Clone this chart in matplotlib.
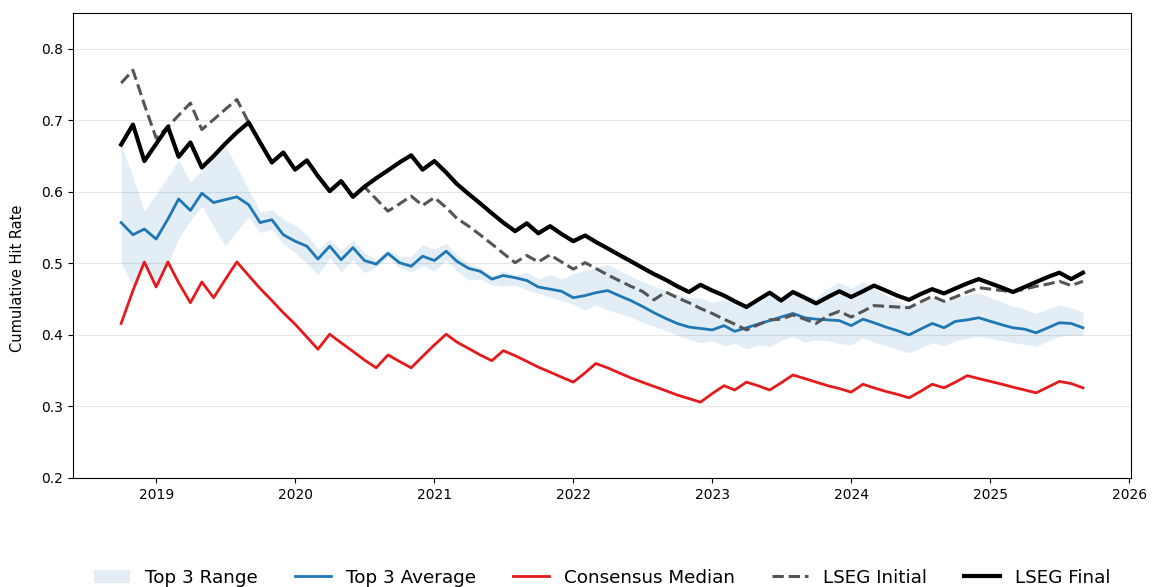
import matplotlib
matplotlib.use("Agg")
import matplotlib.pyplot as plt
import matplotlib.dates as mdates
import pandas as pd

# Monthly observation dates
dates = pd.date_range("2018-10-01", "2025-09-01", freq="MS")

lseg_final = [
    0.666, 0.694, 0.643, 0.667, 0.691, 0.649, 0.669, 0.634, 0.650, 0.667,
    0.683, 0.697, 0.669, 0.641, 0.655, 0.631, 0.644, 0.622, 0.601, 0.615,
    0.593, 0.607, 0.619, 0.630, 0.641, 0.651, 0.631, 0.643, 0.627, 0.611,
    0.597, 0.584, 0.570, 0.557, 0.545, 0.556, 0.542, 0.552, 0.541, 0.531,
    0.539, 0.530, 0.521, 0.512, 0.503, 0.494, 0.485, 0.477, 0.468, 0.460,
    0.470, 0.462, 0.455, 0.447, 0.439, 0.449, 0.459, 0.448, 0.460, 0.452,
    0.444, 0.453, 0.461, 0.453, 0.461, 0.469, 0.462, 0.455, 0.449, 0.457,
    0.464, 0.458, 0.465, 0.472, 0.478, 0.472, 0.466, 0.460, 0.467, 0.474,
    0.481, 0.487, 0.478, 0.487,
]

lseg_initial = [
    0.752, 0.770, 0.722, 0.675, 0.691, 0.707, 0.724, 0.687, 0.701, 0.715,
    0.729, 0.697, 0.669, 0.641, 0.655, 0.631, 0.644, 0.622, 0.601, 0.615,
    0.593, 0.607, 0.590, 0.573, 0.583, 0.594, 0.581, 0.592, 0.578, 0.563,
    0.552, 0.540, 0.527, 0.514, 0.501, 0.511, 0.502, 0.512, 0.502, 0.492,
    0.501, 0.493, 0.484, 0.476, 0.468, 0.461, 0.449, 0.460, 0.452, 0.445,
    0.437, 0.430, 0.422, 0.415, 0.407, 0.414, 0.421, 0.422, 0.428, 0.422,
    0.416, 0.427, 0.433, 0.425, 0.433, 0.441, 0.440, 0.439, 0.438, 0.446,
    0.454, 0.447, 0.453, 0.460, 0.466, 0.464, 0.462, 0.460, 0.464, 0.468,
    0.471, 0.475, 0.469, 0.475,
]

top3_avg = [
    0.557, 0.540, 0.548, 0.534, 0.562, 0.590, 0.574, 0.598, 0.585, 0.589,
    0.593, 0.582, 0.557, 0.561, 0.540, 0.531, 0.524, 0.506, 0.524, 0.505,
    0.522, 0.504, 0.499, 0.514, 0.501, 0.496, 0.510, 0.504, 0.517, 0.503,
    0.493, 0.489, 0.478, 0.483, 0.480, 0.476, 0.467, 0.464, 0.461, 0.452,
    0.455, 0.459, 0.462, 0.455, 0.448, 0.440, 0.431, 0.423, 0.416, 0.411,
    0.409, 0.407, 0.413, 0.405, 0.410, 0.415, 0.420, 0.425, 0.430, 0.424,
    0.422, 0.421, 0.420, 0.413, 0.422, 0.417, 0.411, 0.406, 0.400, 0.408,
    0.416, 0.410, 0.419, 0.421, 0.424, 0.419, 0.414, 0.410, 0.408, 0.403,
    0.410, 0.417, 0.416, 0.410,
]

top3_high = [
    0.666, 0.620, 0.573, 0.597, 0.621, 0.645, 0.613, 0.630, 0.647, 0.664,
    0.635, 0.603, 0.572, 0.575, 0.562, 0.553, 0.540, 0.520, 0.534, 0.518,
    0.533, 0.515, 0.505, 0.520, 0.510, 0.510, 0.526, 0.520, 0.528, 0.512,
    0.500, 0.494, 0.483, 0.490, 0.483, 0.488, 0.478, 0.485, 0.478, 0.486,
    0.490, 0.494, 0.498, 0.490, 0.482, 0.475, 0.468, 0.462, 0.457, 0.452,
    0.452, 0.445, 0.450, 0.442, 0.437, 0.446, 0.455, 0.452, 0.460, 0.455,
    0.452, 0.465, 0.474, 0.465, 0.474, 0.465, 0.456, 0.448, 0.440, 0.446,
    0.452, 0.447, 0.452, 0.456, 0.459, 0.452, 0.446, 0.440, 0.436, 0.430,
    0.436, 0.442, 0.438, 0.432,
]

top3_low = [
    0.500, 0.468, 0.492, 0.468, 0.500, 0.535, 0.560, 0.580, 0.552, 0.524,
    0.545, 0.565, 0.543, 0.548, 0.527, 0.515, 0.500, 0.484, 0.508, 0.488,
    0.505, 0.487, 0.495, 0.508, 0.494, 0.488, 0.497, 0.489, 0.505, 0.490,
    0.477, 0.478, 0.470, 0.468, 0.470, 0.463, 0.458, 0.453, 0.448, 0.443,
    0.435, 0.442, 0.435, 0.430, 0.425, 0.418, 0.412, 0.406, 0.400, 0.394,
    0.389, 0.392, 0.385, 0.388, 0.380, 0.386, 0.384, 0.392, 0.398, 0.390,
    0.393, 0.392, 0.388, 0.386, 0.396, 0.390, 0.385, 0.380, 0.375, 0.382,
    0.389, 0.385, 0.392, 0.395, 0.398, 0.395, 0.392, 0.389, 0.387, 0.384,
    0.391, 0.398, 0.400, 0.399,
]

consensus_median = [
    0.416, 0.462, 0.502, 0.467, 0.502, 0.473, 0.445, 0.474, 0.452, 0.477,
    0.502, 0.483, 0.465, 0.448, 0.431, 0.415, 0.397, 0.380, 0.401, 0.389,
    0.377, 0.365, 0.354, 0.372, 0.363, 0.354, 0.370, 0.386, 0.401, 0.390,
    0.381, 0.372, 0.364, 0.378, 0.371, 0.363, 0.355, 0.348, 0.341, 0.334,
    0.347, 0.360, 0.354, 0.347, 0.340, 0.334, 0.328, 0.322, 0.316, 0.311,
    0.306, 0.318, 0.329, 0.323, 0.334, 0.329, 0.323, 0.333, 0.344, 0.339,
    0.334, 0.329, 0.325, 0.320, 0.331, 0.326, 0.321, 0.317, 0.312, 0.321,
    0.331, 0.326, 0.334, 0.343, 0.339, 0.335, 0.331, 0.327, 0.323, 0.319,
    0.327, 0.335, 0.332, 0.326,
]

fig = plt.figure(figsize=(11.56, 5.87), dpi=100)
ax = fig.add_axes([0.0632, 0.1857, 0.9152, 0.7922])

ax.fill_between(dates, top3_low, top3_high, color="#1f77b4", alpha=0.13,
                linewidth=0, label="Top 3 Range")
ax.plot(dates, top3_avg, color="#1f77b4", lw=2.0, label="Top 3 Average")
ax.plot(dates, consensus_median, color="#e41a1c", lw=2.0, label="Consensus Median")
ax.plot(dates, lseg_initial, color="#555555", lw=2.2, ls="--", label="LSEG Initial")
ax.plot(dates, lseg_final, color="black", lw=3.0, label="LSEG Final")

ax.set_ylim(0.2, 0.85)
ax.set_yticks([0.2, 0.3, 0.4, 0.5, 0.6, 0.7, 0.8])
ax.xaxis.set_major_locator(mdates.YearLocator())
ax.xaxis.set_major_formatter(mdates.DateFormatter("%Y"))
ax.grid(axis="y", color="#e6e6e6", lw=0.8)
ax.set_axisbelow(True)
ax.set_ylabel("Cumulative Hit Rate", fontsize=10.5)
ax.yaxis.set_label_coords(-0.045, 0.43)

ax.legend(loc="upper center", bbox_to_anchor=(0.5, -0.16), ncol=5,
          frameon=False, fontsize=13.2)

fig.savefig("out.png", dpi=100)
